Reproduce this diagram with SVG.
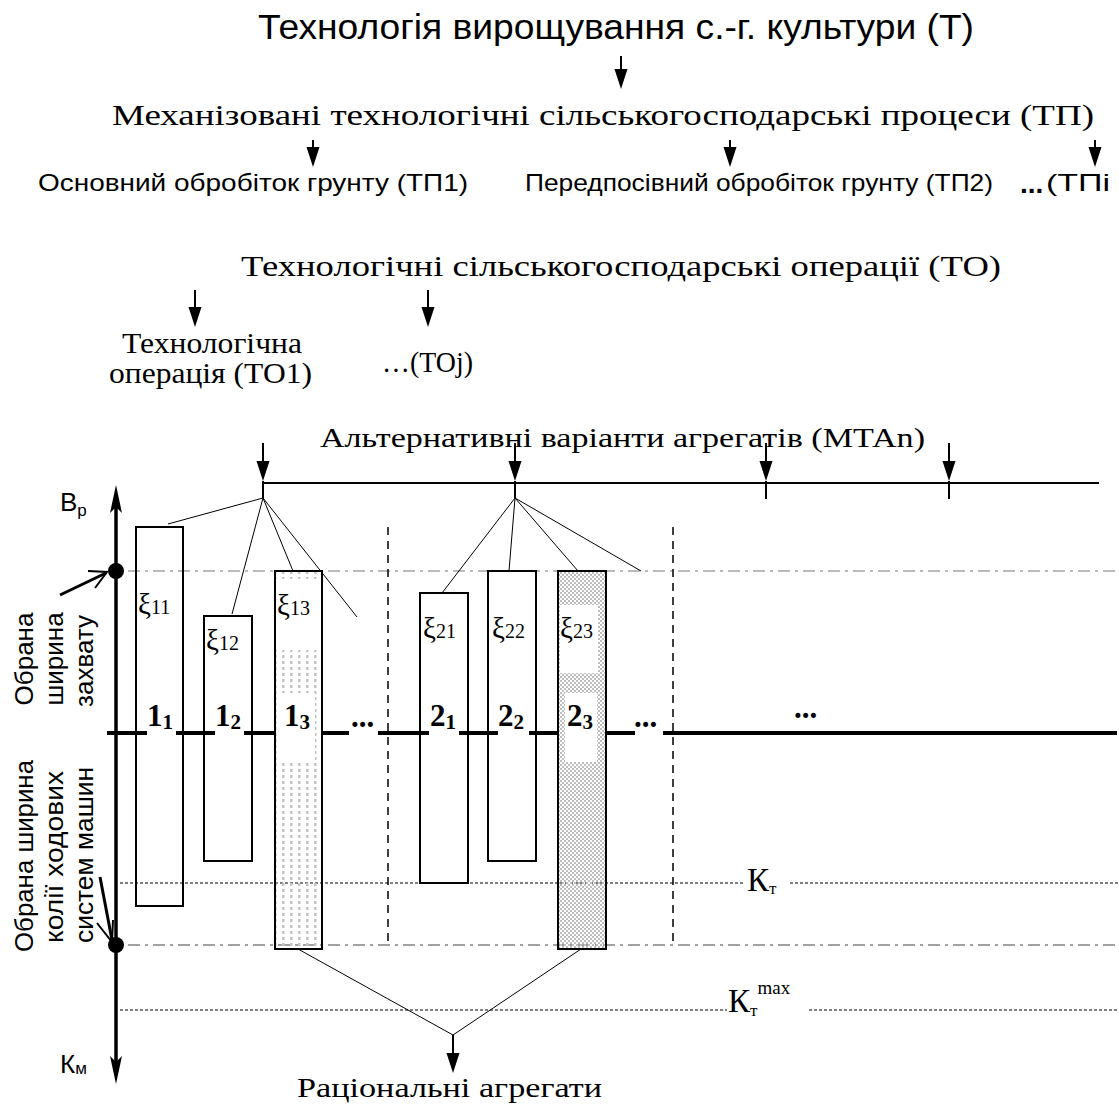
<svg xmlns="http://www.w3.org/2000/svg" xmlns:xlink="http://www.w3.org/1999/xlink" width="1119" height="1106" viewBox="0 0 1119 1106">
<style>
.sans{font-family:"Liberation Sans",Arial,sans-serif;fill:#000}
.serif{font-family:"Liberation Serif","Times New Roman",serif;fill:#000}
.ln{stroke:#000;fill:none}
.thin{stroke:#000;stroke-width:1;fill:none}
.box{stroke:#000;stroke-width:2;fill:none}
.dd{stroke:#777;stroke-width:1.2;stroke-dasharray:12 5 3 5;fill:none}
.dd2{stroke:#444;stroke-width:1.2;stroke-dasharray:12 5 3 5;fill:none}
.dot{stroke:#000;stroke-width:1;stroke-dasharray:3 2;fill:none}
.vd{stroke:#000;stroke-width:1.5;stroke-dasharray:8 6;fill:none}
.lbl{font-family:"Liberation Serif","Times New Roman",serif;font-weight:bold;font-size:31px}
.xi{font-family:"Liberation Serif","Times New Roman",serif;font-size:29px}
.xs{font-size:20px}
</style>
<defs>
<path id="ah" d="M-6.5,-20 L6.5,-20 L0,0 Z" fill="#000"/>
<pattern id="p1" width="8" height="6" patternUnits="userSpaceOnUse">
<rect x="2" y="1" width="2.5" height="3" fill="#c4c4c4"/>
</pattern>
<pattern id="p2" width="4" height="4" patternUnits="userSpaceOnUse">
<rect x="0" y="0" width="2" height="2" fill="#bdbdbd"/>
<rect x="2" y="2" width="2" height="2" fill="#bdbdbd"/>
</pattern>
</defs>

<g id="title">
<text class="sans" x="258" y="39" font-size="35" textLength="716" lengthAdjust="spacingAndGlyphs">Технологія вирощування с.-г. культури (Т)</text>
</g>
<g id="processes">
<text class="serif" x="112" y="125" font-size="30" textLength="982" lengthAdjust="spacingAndGlyphs">Механізовані технологічні сільськогосподарські процеси (ТП)</text>
</g>
<g id="tp1"><text class="sans" x="38" y="191" font-size="24" textLength="430" lengthAdjust="spacingAndGlyphs">Основний обробіток грунту (ТП1)</text></g>
<g id="tp2"><text class="sans" x="525" y="191" font-size="24" textLength="468" lengthAdjust="spacingAndGlyphs">Передпосівний обробіток грунту (ТП2)</text></g>
<g id="tpi"><text class="sans" x="1020" y="193" font-size="28" font-weight="bold">...</text><text class="sans" x="1046" y="191" font-size="24" textLength="64" lengthAdjust="spacingAndGlyphs">(ТПі</text></g>
<g id="operations">
<text class="serif" x="241" y="276" font-size="30" textLength="760" lengthAdjust="spacingAndGlyphs">Технологічні сільськогосподарські операції (ТО)</text>
</g>
<g id="to1">
<text class="serif" x="122" y="353" font-size="29" textLength="180" lengthAdjust="spacingAndGlyphs">Технологічна</text>
<text class="serif" x="109" y="383" font-size="29" textLength="203" lengthAdjust="spacingAndGlyphs">операція (ТО1)</text>
</g>
<g id="toj"><text class="serif" x="382" y="372" font-size="29" textLength="91" lengthAdjust="spacingAndGlyphs">…(ТОj)</text></g>
<g id="alternatives">
<text class="serif" x="320" y="447" font-size="27" textLength="605" lengthAdjust="spacingAndGlyphs">Альтернативні варіанти агрегатів (МТАn)</text>
</g>

<g id="grid">
<line class="dd" x1="128" y1="571" x2="1119" y2="571"/>
<line class="dd2" x1="128" y1="945" x2="1119" y2="945"/>
<line class="dot" x1="120" y1="883" x2="743" y2="883"/>
<line class="dot" x1="790" y1="883" x2="1119" y2="883"/>
<line class="dot" x1="120" y1="1010" x2="727" y2="1010"/>
<line class="dot" x1="809" y1="1010" x2="1119" y2="1010"/>
<line class="vd" x1="388" y1="527" x2="388" y2="945"/>
<line class="vd" x1="673" y1="527" x2="673" y2="945"/>
</g>

<g id="main-line">
<g stroke="#000" stroke-width="4">
<line x1="107" y1="733" x2="147" y2="733"/>
<line x1="176" y1="733" x2="215" y2="733"/>
<line x1="244" y1="733" x2="275" y2="733"/>
<line x1="322" y1="733" x2="349" y2="733"/>
<line x1="378" y1="733" x2="429" y2="733"/>
<line x1="459" y1="733" x2="498" y2="733"/>
<line x1="529" y1="733" x2="558" y2="733"/>
<line x1="606" y1="733" x2="635" y2="733"/>
<line x1="663" y1="733" x2="1117" y2="733"/>
</g>
</g>

<g id="n11"><rect class="box" x="136" y="527" width="47" height="379"/>
<text class="xi" x="138" y="614">ξ<tspan class="xs">11</tspan></text>
<text class="lbl" x="147" y="726">1<tspan font-size="21" dy="3">1</tspan></text></g>
<g id="n12"><rect class="box" x="204" y="616" width="48" height="245"/>
<text class="xi" x="206" y="650">ξ<tspan class="xs">12</tspan></text>
<text class="lbl" x="215" y="726">1<tspan font-size="21" dy="3">2</tspan></text></g>
<g id="n13"><rect x="275" y="571" width="47" height="378" fill="url(#p1)"/>
<rect x="276" y="579" width="44" height="71" fill="#fff"/>
<rect x="282" y="693" width="33" height="69" fill="#fff"/>
<rect x="275" y="571" width="47" height="378" fill="none" stroke="#000" stroke-width="2"/>
<text class="xi" x="277" y="615">ξ<tspan class="xs">13</tspan></text>
<text class="lbl" x="284" y="726">1<tspan font-size="21" dy="3">3</tspan></text></g>
<g id="n21"><rect class="box" x="420" y="593" width="48" height="290"/>
<text class="xi" x="423" y="638">ξ<tspan class="xs">21</tspan></text>
<text class="lbl" x="430" y="726">2<tspan font-size="21" dy="3">1</tspan></text></g>
<g id="n22"><rect class="box" x="488" y="571" width="48" height="290"/>
<text class="xi" x="492" y="638">ξ<tspan class="xs">22</tspan></text>
<text class="lbl" x="498" y="726">2<tspan font-size="21" dy="3">2</tspan></text></g>
<g id="n23"><rect x="558" y="571" width="48" height="378" fill="url(#p2)"/>
<rect x="560" y="605" width="38" height="68" fill="#fff"/>
<rect x="565" y="693" width="32" height="69" fill="#fff"/>
<rect x="558" y="571" width="48" height="378" fill="none" stroke="#000" stroke-width="2"/>
<text class="xi" x="560" y="638">ξ<tspan class="xs">23</tspan></text>
<text class="lbl" x="567" y="726">2<tspan font-size="21" dy="3">3</tspan></text></g>

<g id="ellipses">
<text class="lbl" x="351" y="727" font-size="28">...</text>
<text class="lbl" x="634" y="727" font-size="28">...</text>
<text class="lbl" x="794" y="718" font-size="28">...</text>
</g>

<g id="kt"><text class="serif" x="747" y="891" font-size="33">К<tspan font-size="17" dy="3">т</tspan></text></g>
<g id="ktmax"><text class="serif" x="728" y="1012" font-size="33">К<tspan font-size="17" dy="4">т</tspan><tspan font-size="19" dy="-22">max</tspan></text></g>
<g id="rational"><text class="serif" x="297" y="1097" font-size="28" textLength="305" lengthAdjust="spacingAndGlyphs">Раціональні агрегати</text></g>

<g id="axis">
<line class="ln" x1="116" y1="505" x2="116" y2="1065" stroke-width="3.5"/>
<path d="M116,485 L110,513 L116,507 L122,513 Z" fill="#000"/>
<path d="M116,1084 L110,1056 L116,1062 L122,1056 Z" fill="#000"/>
<circle cx="116" cy="571" r="8" fill="#000"/>
<circle cx="116" cy="945" r="8" fill="#000"/>
<text class="sans" x="60" y="511" font-size="26">B<tspan font-size="17" dy="5">р</tspan></text>
<text class="sans" x="60" y="1073" font-size="26">К<tspan font-size="17" dy="1">м</tspan></text>
</g>
<g id="width-label">
<text class="sans" font-size="26" text-anchor="middle" transform="translate(33,659) rotate(-90)">Обрана</text>
<text class="sans" font-size="26" text-anchor="middle" transform="translate(63,659) rotate(-90)">ширина</text>
<text class="sans" font-size="26" text-anchor="middle" transform="translate(93,661) rotate(-90)">захвату</text>
</g>
<g id="track-label">
<text class="sans" font-size="26" text-anchor="middle" transform="translate(33,856) rotate(-90)" textLength="192" lengthAdjust="spacingAndGlyphs">Обрана ширина</text>
<text class="sans" font-size="26" text-anchor="middle" transform="translate(63,857) rotate(-90)" textLength="172" lengthAdjust="spacingAndGlyphs">колії ходових</text>
<text class="sans" font-size="26" text-anchor="middle" transform="translate(93,855) rotate(-90)" textLength="176" lengthAdjust="spacingAndGlyphs">систем машин</text>
</g>

<g id="connectors">
<line class="ln" stroke-width="2" x1="621" y1="56" x2="621" y2="72"/><use href="#ah" x="621" y="89"/>
<line class="ln" stroke-width="2" x1="313" y1="140" x2="313" y2="150"/><use href="#ah" x="313" y="167"/>
<line class="ln" stroke-width="2" x1="730" y1="140" x2="730" y2="150"/><use href="#ah" x="730" y="167"/>
<line class="ln" stroke-width="2" x1="1095" y1="140" x2="1095" y2="150"/><use href="#ah" x="1095" y="167"/>
<line class="ln" stroke-width="2" x1="195" y1="290" x2="195" y2="310"/><use href="#ah" x="195" y="327"/>
<line class="ln" stroke-width="2" x1="428" y1="290" x2="428" y2="310"/><use href="#ah" x="428" y="327"/>
<line class="ln" stroke-width="2" x1="263" y1="443" x2="263" y2="465"/><use href="#ah" x="263" y="481"/>
<line class="ln" stroke-width="2" x1="515" y1="443" x2="515" y2="465"/><use href="#ah" x="515" y="481"/>
<line class="ln" stroke-width="2" x1="766" y1="443" x2="766" y2="465"/><use href="#ah" x="766" y="481"/>
<line class="ln" stroke-width="2" x1="949" y1="443" x2="949" y2="465"/><use href="#ah" x="949" y="481"/>
<line class="ln" stroke-width="2" x1="263" y1="483" x2="1099" y2="483"/>
<line class="ln" stroke-width="2" x1="263" y1="481" x2="263" y2="498"/>
<line class="ln" stroke-width="2" x1="515" y1="481" x2="515" y2="498"/>
<line class="ln" stroke-width="2" x1="766" y1="481" x2="766" y2="499"/>
<line class="ln" stroke-width="2" x1="949" y1="481" x2="949" y2="499"/>
<line class="thin" x1="263" y1="498" x2="168" y2="524"/>
<line class="thin" x1="263" y1="498" x2="232" y2="614"/>
<line class="thin" x1="263" y1="498" x2="293" y2="571"/>
<line class="thin" x1="263" y1="498" x2="357" y2="617"/>
<line class="thin" x1="515" y1="498" x2="442" y2="593"/>
<line class="thin" x1="515" y1="498" x2="509" y2="571"/>
<line class="thin" x1="515" y1="498" x2="578" y2="571"/>
<line class="thin" x1="515" y1="498" x2="641" y2="571"/>
<line class="thin" x1="298" y1="949" x2="453" y2="1035"/>
<line class="thin" x1="581" y1="949" x2="453" y2="1035"/>
<line class="ln" stroke-width="2" x1="453" y1="1035" x2="453" y2="1055"/><use href="#ah" x="453" y="1073"/>
<line class="ln" stroke-width="3" x1="60" y1="595" x2="106" y2="573"/>
<polyline class="ln" stroke-width="2" points="88,571 107,572 95,588"/>
<line class="ln" stroke-width="3" x1="100" y1="877" x2="112" y2="940"/>
<polyline class="ln" stroke-width="2" points="97,923 112,942 113,920"/>
</g>
</svg>
